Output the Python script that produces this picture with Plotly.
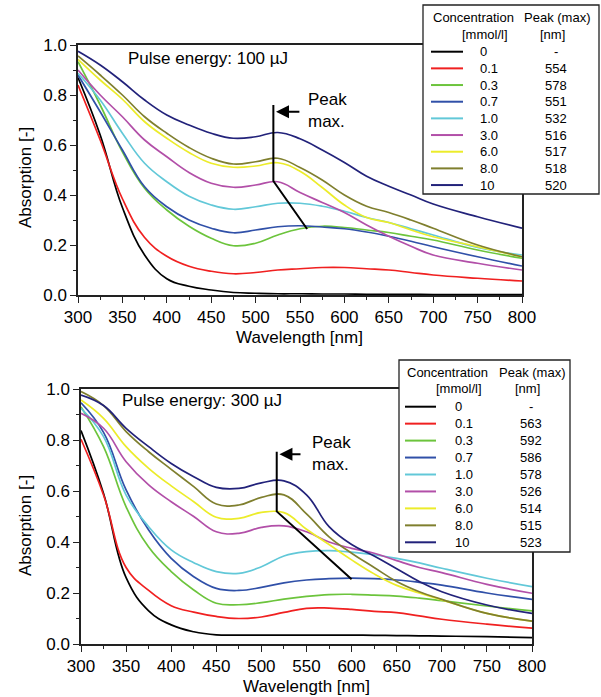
import plotly.graph_objects as go

# ---------------- data ----------------
wavelength = [300, 325, 350, 375, 400, 425, 450, 475, 500, 525, 550, 575, 600, 625, 650, 675, 700, 750, 800]

concentrations = ["0", "0.1", "0.3", "0.7", "1.0", "3.0", "6.0", "8.0", "10"]
peaks_100 = ["-", "554", "578", "551", "532", "516", "517", "518", "520"]
peaks_300 = ["-", "563", "592", "586", "578", "526", "514", "515", "523"]

# Pulse energy 100 uJ
abs100_c0 = [0.87, 0.64, 0.35, 0.16, 0.065, 0.035, 0.02, 0.01, 0.007, 0.005, 0.005, 0.004, 0.004, 0.003, 0.003, 0.003, 0.002, 0.002, 0.002]
abs100_c01 = [0.84, 0.62, 0.385, 0.23, 0.155, 0.115, 0.095, 0.085, 0.09, 0.10, 0.105, 0.11, 0.11, 0.105, 0.10, 0.09, 0.08, 0.067, 0.056]
abs100_c03 = [0.933, 0.76, 0.573, 0.427, 0.34, 0.275, 0.227, 0.197, 0.207, 0.24, 0.265, 0.275, 0.27, 0.26, 0.25, 0.235, 0.22, 0.18, 0.147]
abs100_c07 = [0.88, 0.733, 0.58, 0.433, 0.353, 0.30, 0.267, 0.249, 0.26, 0.273, 0.277, 0.272, 0.265, 0.252, 0.235, 0.215, 0.193, 0.153, 0.116]
abs100_c1 = [0.887, 0.78, 0.647, 0.527, 0.453, 0.395, 0.36, 0.343, 0.353, 0.367, 0.367, 0.355, 0.335, 0.31, 0.29, 0.265, 0.24, 0.19, 0.16]
abs100_c3 = [0.90, 0.80, 0.713, 0.62, 0.553, 0.49, 0.447, 0.431, 0.44, 0.453, 0.41, 0.37, 0.33, 0.28, 0.235, 0.195, 0.16, 0.127, 0.10]
abs100_c6 = [0.943, 0.86, 0.783, 0.693, 0.627, 0.57, 0.527, 0.511, 0.516, 0.529, 0.495, 0.43, 0.36, 0.31, 0.29, 0.26, 0.233, 0.193, 0.153]
abs100_c8 = [0.956, 0.88, 0.80, 0.713, 0.647, 0.59, 0.547, 0.524, 0.533, 0.547, 0.51, 0.46, 0.40, 0.355, 0.33, 0.30, 0.267, 0.20, 0.153]
abs100_c10 = [0.975, 0.92, 0.853, 0.78, 0.72, 0.68, 0.647, 0.627, 0.633, 0.65, 0.625, 0.58, 0.53, 0.475, 0.435, 0.40, 0.364, 0.313, 0.267]

# Pulse energy 300 uJ
abs300_c0 = [0.837, 0.59, 0.26, 0.13, 0.075, 0.048, 0.036, 0.035, 0.035, 0.035, 0.035, 0.035, 0.035, 0.034, 0.033, 0.032, 0.031, 0.029, 0.025]
abs300_c01 = [0.803, 0.584, 0.30, 0.21, 0.15, 0.125, 0.108, 0.10, 0.106, 0.124, 0.14, 0.141, 0.136, 0.128, 0.123, 0.11, 0.097, 0.078, 0.062]
abs300_c03 = [0.93, 0.774, 0.538, 0.38, 0.284, 0.212, 0.16, 0.154, 0.162, 0.176, 0.187, 0.194, 0.195, 0.192, 0.188, 0.18, 0.17, 0.149, 0.13]
abs300_c07 = [0.946, 0.83, 0.604, 0.447, 0.336, 0.264, 0.218, 0.21, 0.222, 0.24, 0.251, 0.256, 0.258, 0.256, 0.251, 0.242, 0.231, 0.20, 0.175]
abs300_c1 = [0.924, 0.813, 0.584, 0.46, 0.369, 0.319, 0.284, 0.277, 0.303, 0.345, 0.362, 0.366, 0.36, 0.35, 0.336, 0.318, 0.297, 0.258, 0.225]
abs300_c3 = [0.905, 0.846, 0.715, 0.624, 0.558, 0.50, 0.44, 0.434, 0.457, 0.463, 0.44, 0.40, 0.375, 0.356, 0.327, 0.30, 0.28, 0.234, 0.199]
abs300_c6 = [0.957, 0.885, 0.774, 0.689, 0.62, 0.558, 0.497, 0.493, 0.516, 0.515, 0.45, 0.39, 0.33, 0.275, 0.23, 0.20, 0.173, 0.12, 0.09]
abs300_c8 = [0.99, 0.935, 0.833, 0.754, 0.685, 0.617, 0.549, 0.545, 0.575, 0.585, 0.51, 0.42, 0.356, 0.30, 0.245, 0.205, 0.175, 0.12, 0.09]
abs300_c10 = [0.976, 0.935, 0.846, 0.774, 0.708, 0.656, 0.614, 0.61, 0.632, 0.64, 0.585, 0.46, 0.39, 0.345, 0.295, 0.245, 0.205, 0.153, 0.12]

series100 = [abs100_c0, abs100_c01, abs100_c03, abs100_c07, abs100_c1, abs100_c3, abs100_c6, abs100_c8, abs100_c10]
series300 = [abs300_c0, abs300_c01, abs300_c03, abs300_c07, abs300_c1, abs300_c3, abs300_c6, abs300_c8, abs300_c10]

colors = ["#000000", "#f02020", "#6cc43c", "#3050a8", "#62c8d8", "#b24fa8", "#ecec2a", "#7f7f2e", "#22227a"]

# peak-marker guide lines (wavelength, absorption)
guide100_x = [520, 520, 558]
guide100_y = [0.76, 0.456, 0.264]
guide300_x = [517, 517, 600]
guide300_y = [0.754, 0.52, 0.254]

# ---------------- figure ----------------
W, H = 601, 697
FONT = "Liberation Sans, Arial, sans-serif"

def px(x):
    return x / W

def py(y):
    return 1 - y / H

fig = go.Figure()

for vals, col in zip(series100, colors):
    fig.add_trace(go.Scatter(x=wavelength, y=vals, mode="lines", xaxis="x", yaxis="y",
                             line=dict(color=col, width=1.7, shape="spline", smoothing=1.2),
                             showlegend=False, hoverinfo="skip"))
for vals, col in zip(series300, colors):
    fig.add_trace(go.Scatter(x=wavelength, y=vals, mode="lines", xaxis="x2", yaxis="y2",
                             line=dict(color=col, width=1.7, shape="spline", smoothing=1.2),
                             showlegend=False, hoverinfo="skip"))

# guide lines
fig.add_trace(go.Scatter(x=guide100_x, y=guide100_y, mode="lines", xaxis="x", yaxis="y",
                         line=dict(color="black", width=2), showlegend=False, hoverinfo="skip"))
fig.add_trace(go.Scatter(x=guide300_x, y=guide300_y, mode="lines", xaxis="x2", yaxis="y2",
                         line=dict(color="black", width=2), showlegend=False, hoverinfo="skip"))

def xaxis_cfg(domain, anchor):
    return dict(domain=domain, anchor=anchor, range=[300, 800], tick0=300, dtick=50,
                automargin=False,
                ticks="outside", ticklen=6, tickwidth=1.3, tickcolor="#222",
                minor=dict(dtick=25, ticks="outside", ticklen=3, tickwidth=1.3, tickcolor="#222"),
                showline=True, linecolor="#222", linewidth=1.5, mirror=True,
                showgrid=False, zeroline=False,
                tickfont=dict(family=FONT, size=17, color="black"))

def yaxis_cfg(domain, anchor):
    return dict(domain=domain, anchor=anchor, range=[0, 1], tick0=0, dtick=0.2, tickformat=".1f",
                automargin=False,
                ticks="outside", ticklen=6, tickwidth=1.3, tickcolor="#222",
                minor=dict(dtick=0.1, ticks="outside", ticklen=3, tickwidth=1.3, tickcolor="#222"),
                showline=True, linecolor="#222", linewidth=1.5, mirror=True,
                showgrid=False, zeroline=False,
                tickfont=dict(family=FONT, size=17, color="black"))

fig.update_layout(
    width=W, height=H,
    margin=dict(l=0, r=0, t=0, b=0, pad=0),
    paper_bgcolor="white", plot_bgcolor="white",
    showlegend=False,
    font=dict(family=FONT, color="black"),
    xaxis=xaxis_cfg([px(78), px(522)], "y"),
    yaxis=yaxis_cfg([py(295), py(45)], "x"),
    xaxis2=xaxis_cfg([px(81), px(532)], "y2"),
    yaxis2=yaxis_cfg([py(644), py(389)], "x2"),
)

ann = []
shapes = []

# axis titles
for (xc, yc) in [(299, 338), (306, 686)]:
    ann.append(dict(text="Wavelength [nm]", x=px(xc), y=py(yc), xref="paper", yref="paper",
                    showarrow=False, xanchor="center", yanchor="middle",
                    font=dict(family=FONT, size=17)))
for (xc, yc) in [(25, 178), (25, 526)]:
    ann.append(dict(text="Absorption [-]", x=px(xc), y=py(yc), xref="paper", yref="paper",
                    showarrow=False, xanchor="center", yanchor="middle", textangle=-90,
                    font=dict(family=FONT, size=17)))

# pulse energy labels
ann.append(dict(text="Pulse energy: 100 µJ", x=px(126), y=py(58), xref="paper", yref="paper",
                showarrow=False, xanchor="left", yanchor="middle", font=dict(family=FONT, size=17)))
ann.append(dict(text="Pulse energy: 300 µJ", x=px(120), y=py(400), xref="paper", yref="paper",
                showarrow=False, xanchor="left", yanchor="middle", font=dict(family=FONT, size=17)))

# Peak max labels
ann.append(dict(text="Peak<br>max.", x=px(306), y=py(110), xref="paper", yref="paper",
                showarrow=False, xanchor="left", yanchor="middle", align="left",
                font=dict(family=FONT, size=17)))
ann.append(dict(text="Peak<br>max.", x=px(310), y=py(453), xref="paper", yref="paper",
                showarrow=False, xanchor="left", yanchor="middle", align="left",
                font=dict(family=FONT, size=17)))

# arrows
ann.append(dict(x=523, y=0.733, ax=551, ay=0.733, xref="x", yref="y", axref="x", ayref="y",
                showarrow=True, arrowhead=2, arrowsize=1.3, arrowwidth=2, arrowcolor="black", text=""))
ann.append(dict(x=520, y=0.744, ax=545, ay=0.744, xref="x2", yref="y2", axref="x2", ayref="y2",
                showarrow=True, arrowhead=2, arrowsize=1.3, arrowwidth=2, arrowcolor="black", text=""))

# legend tables
def legend_table(box, head1_x, head2_x, head_y1, head_y2, line_x0, line_x1, label_x, peak_x, row_y, peaks):
    x0, y0, x1, y1 = box
    shapes.append(dict(type="rect", xref="paper", yref="paper", x0=px(x0), x1=px(x1), y0=py(y1), y1=py(y0),
                       line=dict(color="#222", width=1.3), fillcolor="white", layer="above"))
    for txt, xc, yc in [("Concentration", head1_x, head_y1), ("[mmol/l]", head1_x + 12, head_y2),
                        ("Peak (max)", head2_x, head_y1), ("[nm]", head2_x - 5, head_y2)]:
        ann.append(dict(text=txt, x=px(xc), y=py(yc), xref="paper", yref="paper", showarrow=False,
                        xanchor="center", yanchor="middle", font=dict(family=FONT, size=13)))
    for i, (c, col, pk) in enumerate(zip(concentrations, colors, peaks)):
        yy = row_y[0] + i * row_y[1]
        shapes.append(dict(type="line", xref="paper", yref="paper", x0=px(line_x0), x1=px(line_x1),
                           y0=py(yy), y1=py(yy), line=dict(color=col, width=2), layer="above"))
        ann.append(dict(text=c, x=px(label_x), y=py(yy), xref="paper", yref="paper", showarrow=False,
                        xanchor="left", yanchor="middle", font=dict(family=FONT, size=13)))
        ann.append(dict(text=pk, x=px(peak_x), y=py(yy), xref="paper", yref="paper", showarrow=False,
                        xanchor="center", yanchor="middle", font=dict(family=FONT, size=13)))

legend_table((423, 5, 599, 194), 473, 557, 17, 35, 431, 463, 478, 556, (51.7, 16.67), peaks_100)
legend_table((399, 360, 570, 552), 447, 532, 372, 388, 405, 436, 453, 531, (406.7, 16.95), peaks_300)

fig.update_layout(annotations=ann, shapes=shapes)

fig.write_html("out.html",
               config={"displayModeBar": False},
               post_script="document.body.style.margin='0';document.body.style.padding='0';"
                           "document.body.style.overflow='hidden';")
